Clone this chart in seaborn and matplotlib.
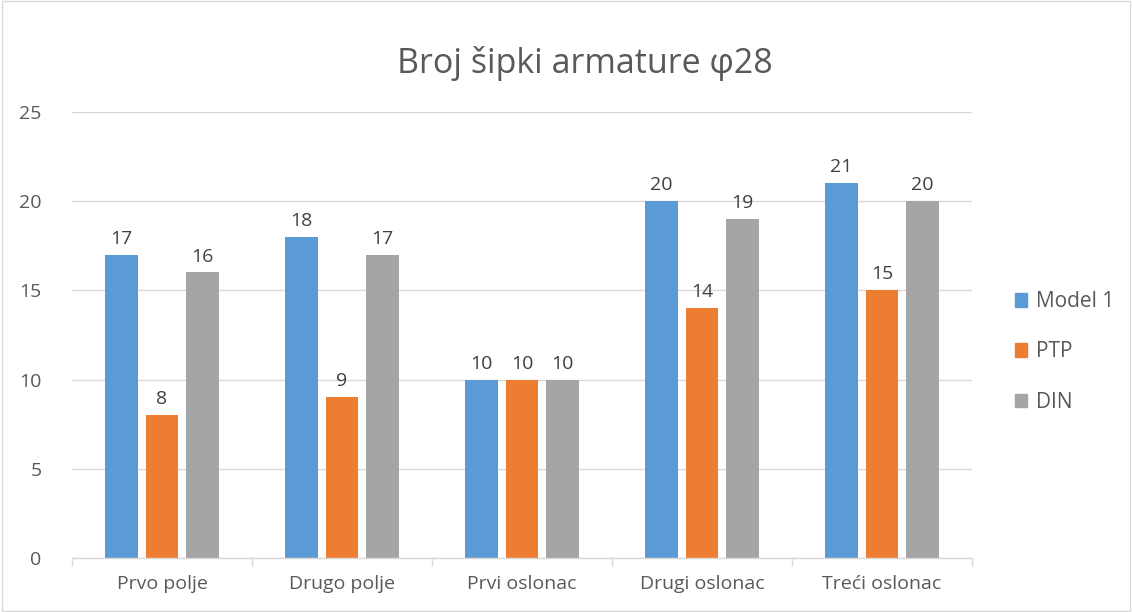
import pandas as pd
import numpy as np
import matplotlib
matplotlib.use("Agg")
import matplotlib.pyplot as plt
import seaborn as sns
from matplotlib.patches import Rectangle

# ----------------------------------
# Data
# ----------------------------------
categories = ["Prvo polje", "Drugo polje", "Prvi oslonac", "Drugi oslonac", "Treći oslonac"]
series_names = ["Model 1", "PTP", "DIN"]
model1 = [17, 18, 10, 20, 21]
ptp = [8, 9, 10, 14, 15]
din = [16, 17, 10, 19, 20]
colors = ["#5b9bd5", "#ed7d31", "#a5a5a5"]

df = pd.DataFrame({
    "Kategorija": categories * 3,
    "Serija": [s for s in series_names for _ in categories],
    "Broj": model1 + ptp + din,
})

# ----------------------------------
# Plot
# ----------------------------------
sns.set_style("white")
plt.rcParams["font.family"] = ["Open Sans", "DejaVu Sans"]
text_col = "#595959"

fig = plt.figure(figsize=(11.32, 6.12), dpi=100)
ax = fig.add_axes([0.0636, 0.0882, 0.795, 0.729])

sns.barplot(data=df, x="Kategorija", y="Broj", hue="Serija",
            palette=colors, saturation=1, width=0.675, gap=0.2, ax=ax,
            legend=False, linewidth=0)

for cont in ax.containers:
    ax.bar_label(cont, padding=5, fontsize=14, color="#404040")

ax.set_ylim(0, 25)
ax.set_xlim(-0.5, len(categories) - 0.5)
ax.set_yticks(range(0, 26, 5))
ax.yaxis.grid(True, color="#d9d9d9", linewidth=1)
ax.set_axisbelow(True)
for side in ["top", "right", "left"]:
    ax.spines[side].set_visible(False)
ax.spines["bottom"].set_color("#d9d9d9")
ax.spines["bottom"].set_linewidth(1)

ax.set_xlabel("")
ax.set_ylabel("")
ax.tick_params(axis="x", length=0, labelsize=14, labelcolor=text_col, pad=12)
ax.tick_params(axis="y", length=0, labelsize=14, labelcolor=text_col, pad=22)
ax.set_xticks(np.arange(-0.5, len(categories), 1.0), minor=True)
ax.tick_params(axis="x", which="minor", bottom=True, length=6,
               color="#d9d9d9", width=1)

fig.suptitle("Broj šipki armature φ28", x=0.517, y=0.925, fontsize=24.5,
             color=text_col)

# legend
handles = [Rectangle((0, 0), 1, 1, color=c) for c in colors]
fig.legend(handles, series_names, loc="center left", bbox_to_anchor=(0.88, 0.425),
           frameon=False, fontsize=15, labelcolor=text_col,
           handlelength=0.6, handleheight=0.6, handletextpad=0.4,
           labelspacing=1.4)

# chart border
fig.patches.append(Rectangle((0.002, 0.002), 0.996, 0.996, transform=fig.transFigure,
                             fill=False, edgecolor="#d9d9d9", linewidth=1))

fig.savefig("out.png", dpi=100)
